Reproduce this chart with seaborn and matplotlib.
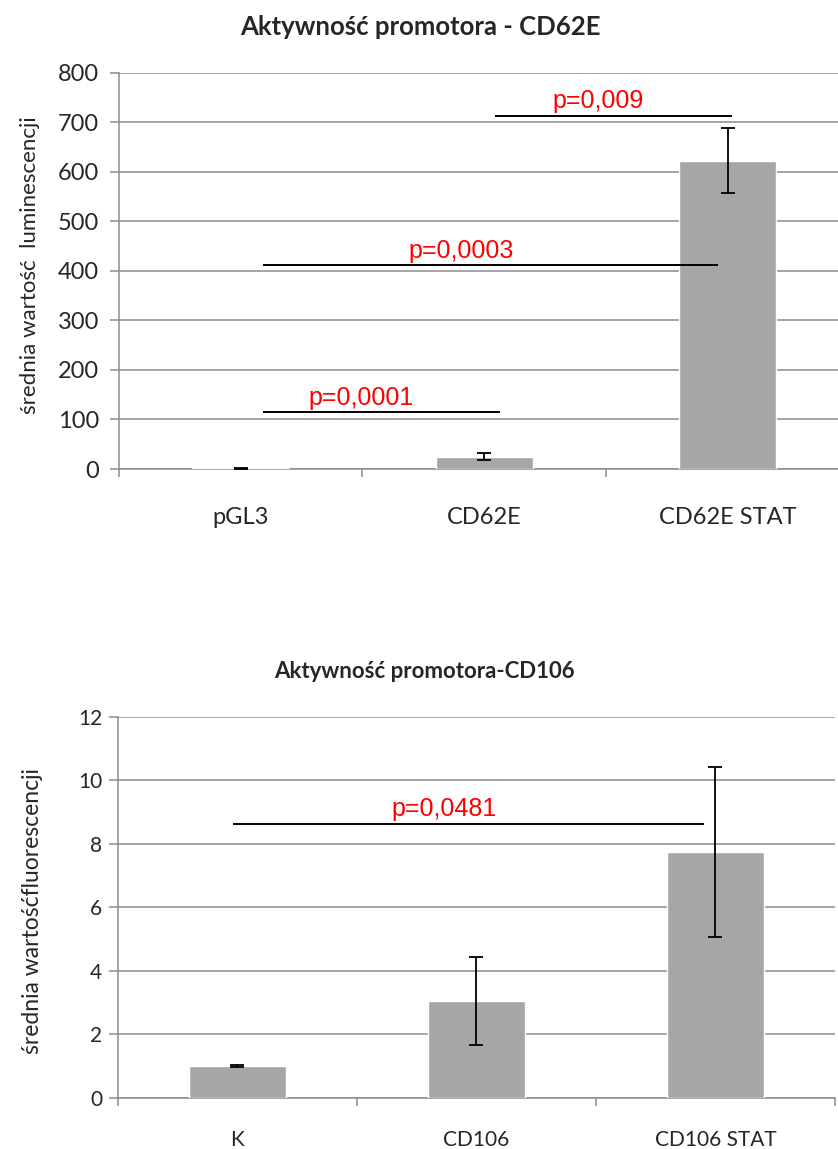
import matplotlib
matplotlib.use("Agg")
import matplotlib.pyplot as plt
import seaborn as sns
import numpy as np

# ---- data: top chart ----
top_title = "Aktywność promotora - CD62E"
top_categories = ["pGL3", "CD62E", "CD62E STAT"]
top_values = [1.5, 25, 622]
top_errors = [0.5, 7, 66]
top_ylabel = "średnia wartość  luminescencji"
top_yticks = [0, 100, 200, 300, 400, 500, 600, 700, 800]
top_sig_labels = ["p=0,0001", "p=0,0003", "p=0,009"]
top_sig_x0 = [0.09, 0.09, 1.043]
top_sig_x1 = [1.064, 1.959, 2.016]
top_sig_y = [115, 411, 712]
top_sig_text_x = [0.493, 0.904, 1.466]
top_sig_text_y = [129, 425, 728]

# ---- data: bottom chart ----
bot_title = "Aktywność promotora-CD106"
bot_categories = ["K", "CD106", "CD106 STAT"]
bot_values = [1.0, 3.05, 7.75]
bot_errors = [0.03, 1.39, 2.69]
bot_ylabel = "średnia wartośćfluorescencji"
bot_yticks = [0, 2, 4, 6, 8, 10, 12]
bot_sig_labels = ["p=0,0481"]
bot_sig_x0 = [-0.017]
bot_sig_x1 = [1.95]
bot_sig_y = [8.63]
bot_sig_text_x = [0.866]
bot_sig_text_y = [8.88]

sns.set_theme(style="white")
plt.rcParams['font.family'] = ['Lato', 'DejaVu Sans']

BAR = "#a6a6a6"
GRID = "#8c8c8c"

fig = plt.figure(figsize=(8.38, 11.49), dpi=100)
ax1 = fig.add_axes([0.142, 0.5918, 0.8717, 0.3451])
ax2 = fig.add_axes([0.1408, 0.0444, 0.8556, 0.3316])


def draw(ax, cats, vals, errs, yticks, ylabel, ytick_fs, xtick_fs, label_fs,
         sig, bw, pfs, ypad, xpad):
    sns.barplot(x=cats, y=vals, color=BAR, saturation=1, width=bw,
                errorbar=None, ax=ax, zorder=2)
    ax.errorbar(np.arange(len(cats)), vals, yerr=errs, fmt="none",
                ecolor="black", elinewidth=1.3, capsize=4.7, capthick=1.3, zorder=3)
    ax.set_xlim(-0.5, len(cats) - 0.5)
    ax.set_ylim(yticks[0], yticks[-1])
    ax.set_yticks(yticks)
    ax.yaxis.grid(True, color=GRID, linewidth=1.1)
    ax.set_axisbelow(True)
    for s in ["top", "right"]:
        ax.spines[s].set_visible(False)
    for s in ["left", "bottom"]:
        ax.spines[s].set_color(GRID)
        ax.spines[s].set_linewidth(1.1)
        ax.spines[s].set_zorder(1)
    ax.tick_params(axis="y", which="major", left=True, length=6.5, width=1.1,
                   color=GRID, labelsize=ytick_fs, pad=ypad)
    ax.set_xticks(np.arange(len(cats)))
    ax.set_xticklabels(cats)
    ax.set_xticks(np.arange(len(cats) + 1) - 0.5, minor=True)
    ax.tick_params(axis="x", which="major", length=0, labelsize=xtick_fs, pad=xpad)
    ax.tick_params(axis="x", which="minor", bottom=True, length=5.5, width=1.1,
                   color=GRID)
    ax.set_xlabel("")
    ax.set_ylabel(ylabel, fontsize=label_fs)
    labels, x0s, x1s, ys, txs, tys = sig
    for lab, x0, x1, y, tx, ty in zip(labels, x0s, x1s, ys, txs, tys):
        ax.plot([x0, x1], [y, y], color="black", linewidth=1.4, zorder=4,
                solid_capstyle="butt")
        ax.text(tx, ty, lab, color="red", fontsize=pfs, ha="center",
                va="baseline", family=["Liberation Sans", "DejaVu Sans"], zorder=5)


draw(ax1, top_categories, top_values, top_errors, top_yticks, top_ylabel,
     17, 17, 16,
     (top_sig_labels, top_sig_x0, top_sig_x1, top_sig_y, top_sig_text_x, top_sig_text_y),
     0.40, 18, 8, 27)
draw(ax2, bot_categories, bot_values, bot_errors, bot_yticks, bot_ylabel,
     15, 15, 16.5,
     (bot_sig_labels, bot_sig_x0, bot_sig_x1, bot_sig_y, bot_sig_text_x, bot_sig_text_y),
     0.405, 18, 5, 23)

ax1.yaxis.set_label_coords(-0.108, 0.514)
ax2.yaxis.set_label_coords(-0.105, 0.49)

fig.text(420 / 838, 1 - 27 / 1149, top_title, ha="center", va="center",
         fontsize=18.5, fontweight="bold")
fig.text(424 / 838, 1 - 672 / 1149, bot_title, ha="center", va="center",
         fontsize=16, fontweight="bold")

fig.savefig("out.png", dpi=100)
